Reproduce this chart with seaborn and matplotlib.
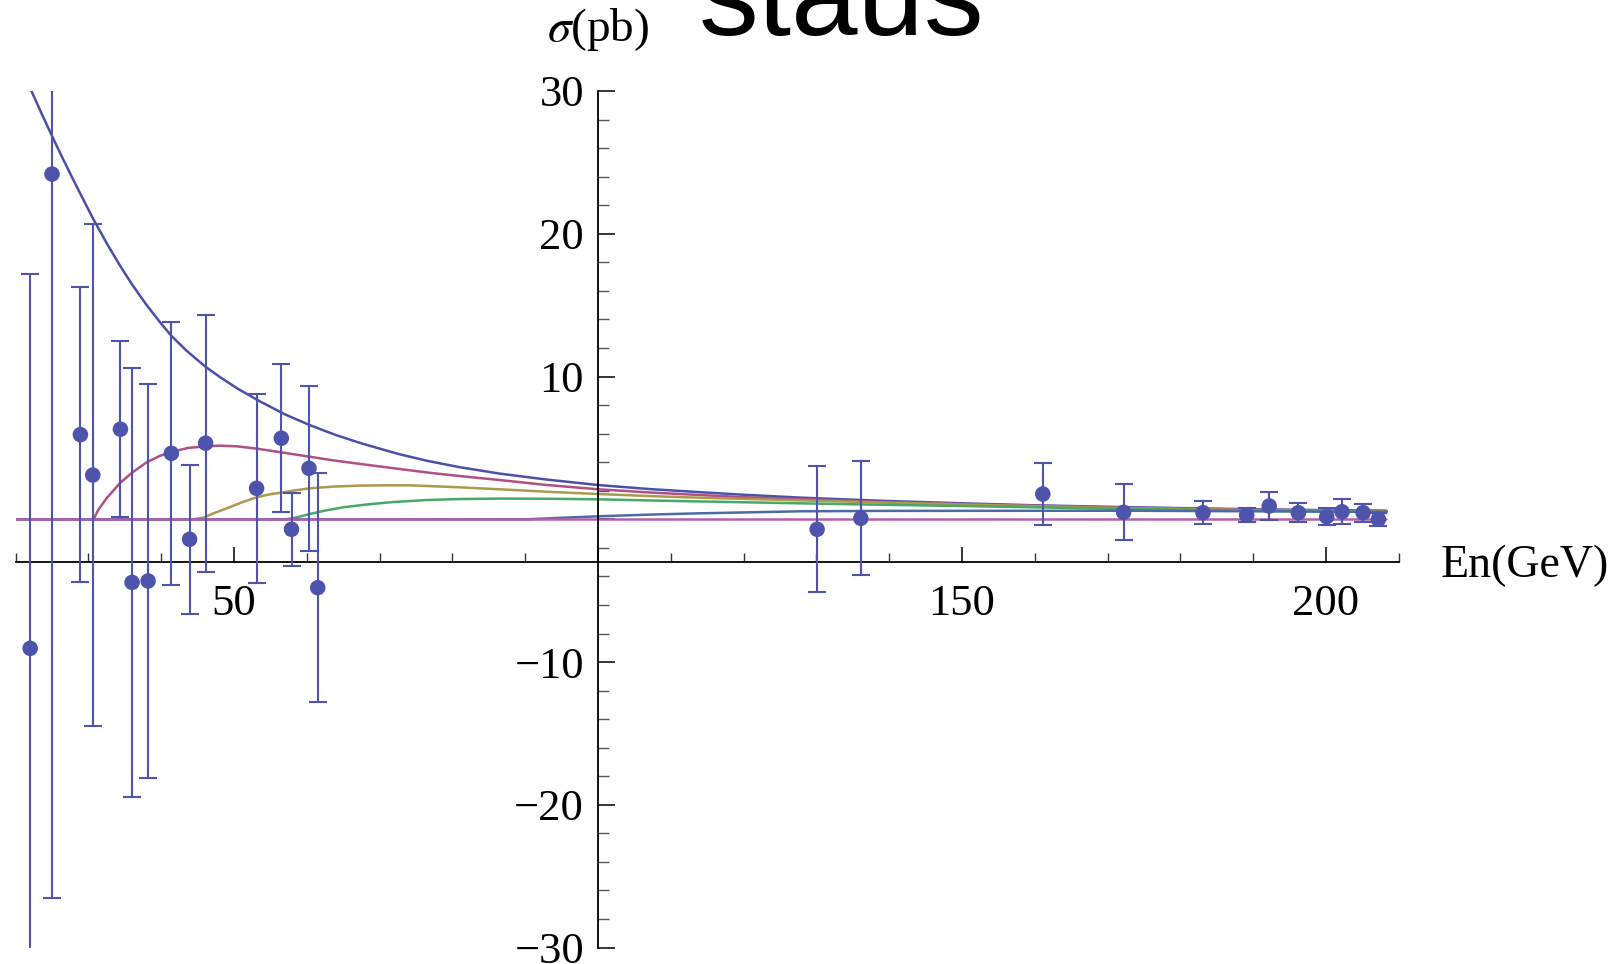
import matplotlib
matplotlib.use("Agg")
import matplotlib.pyplot as plt
import seaborn as sns
import numpy as np
from matplotlib.ticker import FixedLocator, MultipleLocator

# measured cross sections (pb) vs centre-of-mass energy (GeV)
energies = [22.0, 25.0, 28.9, 30.6, 34.4, 36.0, 38.2, 41.4, 43.9, 46.1, 53.1, 56.5,
            57.9, 60.3, 61.5, 130.1, 136.1, 161.1, 172.2, 183.1, 189.1, 192.2,
            196.2, 200.1, 202.2, 205.1, 207.2]
sigma = [-9.04, 24.18, 5.93, 3.10, 6.31, -4.42, -4.32, 4.62, -1.40, 5.33, 2.17, 5.68,
         -0.70, 3.57, -4.79, -0.70, 0.07, 1.77, 0.49, 0.46, 0.30, 0.93,
         0.46, 0.18, 0.53, 0.46, 0.00]
sigma_err = [26.2, 50.7, 10.35, 17.6, 6.15, 15.0, 13.8, 9.2, 5.2, 9.0, 6.6, 5.2,
             2.56, 5.8, 8.0, 4.4, 4.0, 2.2, 1.95, 0.82, 0.47, 0.95,
             0.68, 0.61, 0.86, 0.62, 0.47]

# theory curves
blue_x = [21.5, 22.2, 23.5, 25.0, 26.5, 28.0, 29.5, 30.6, 32.5, 34.3, 36.0, 38.0, 40.0,
          41.4, 43.5, 46.0, 48.1, 50.5, 53.6, 57.0, 60.4, 64.0, 67.3, 70.0, 72.8,
          76.5, 81.0, 86.5, 93.0, 100.0, 107.0, 114.0, 120.0, 127.7, 138.7, 150.0,
          160.0, 172.6, 185.0, 195.0, 208.3]
blue_y = [30.8, 29.97, 28.5, 26.85, 25.25, 23.7, 22.2, 21.1, 19.35, 17.8, 16.45, 15.0, 13.7,
          12.85, 11.8, 10.72, 9.95, 9.15, 8.25, 7.35, 6.6, 5.9, 5.35, 4.95, 4.55,
          4.1, 3.65, 3.2, 2.78, 2.40, 2.12, 1.90, 1.72, 1.52, 1.30, 1.12,
          0.98, 0.85, 0.74, 0.67, 0.60]

red_x = [20.0, 30.7, 31.4, 32.5, 34.3, 36.0, 38.0, 39.8, 41.4, 43.7, 46.1, 48.1, 50.4,
         53.1, 56.5, 60.3, 63.6, 67.3, 72.8, 77.0, 81.0, 86.5, 93.0, 100.1, 107.0,
         114.0, 120.0, 127.7, 138.7, 150.0, 160.0, 172.6, 190.0, 208.3]
red_y = [0.0, 0.0, 0.70, 1.47, 2.52, 3.27, 3.99, 4.44, 4.72, 5.00, 5.11, 5.16, 5.11,
         4.95, 4.69, 4.39, 4.13, 3.88, 3.52, 3.25, 3.03, 2.75, 2.40, 2.10, 1.88,
         1.70, 1.55, 1.42, 1.22, 1.07, 0.95, 0.81, 0.68, 0.58]

olive_x = [20.0, 44.4, 45.8, 47.2, 49.0, 51.1, 53.1, 54.7, 56.5, 58.4, 60.4, 63.6, 67.3,
           70.7, 74.2, 81.0, 86.5, 93.0, 100.0, 107.0, 114.0, 120.0, 127.7, 138.7,
           150.0, 160.0, 172.6, 190.0, 208.3]
olive_y = [0.0, 0.0, 0.12, 0.42, 0.77, 1.19, 1.54, 1.73, 1.87, 2.03, 2.17, 2.29, 2.36,
           2.38, 2.38, 2.24, 2.10, 1.93, 1.77, 1.63, 1.51, 1.43, 1.33, 1.18,
           1.04, 0.92, 0.78, 0.64, 0.55]

green_x = [20.0, 57.2, 58.8, 60.4, 62.7, 65.0, 68.45, 71.9, 76.5, 81.0, 86.5, 93.0,
           100.0, 107.0, 114.0, 127.7, 138.7, 150.0, 160.0, 172.6, 190.0, 208.3]
green_y = [0.0, 0.0, 0.16, 0.37, 0.63, 0.84, 1.05, 1.21, 1.35, 1.42, 1.45, 1.44,
           1.40, 1.32, 1.25, 1.12, 1.02, 0.93, 0.84, 0.72, 0.60, 0.50]

steel_x = [20.0, 90.2, 93.4, 96.6, 100.1, 107.1, 114.0, 120.9, 127.7, 140.0, 172.6, 208.3]
steel_y = [0.0, 0.0, 0.07, 0.14, 0.21, 0.33, 0.42, 0.49, 0.56, 0.59, 0.60, 0.52]

magenta_x = [20.0, 208.3]
magenta_y = [0.0, 0.0]

x_major = [50, 100, 150, 200]
x_labels = ["50", "", "150", "200"]
y_major = [-30, -20, -10, 0, 10, 20, 30]
y_labels = ["\u221230", "\u221220", "\u221210", "", "10", "20", "30"]

sns.set_theme(style="white")
plt.rcParams["font.family"] = ["Liberation Serif", "DejaVu Serif"]
plt.rcParams["mathtext.fontset"] = "stix"
plt.rcParams["text.color"] = "black"
plt.rcParams["xtick.labelcolor"] = "black"
plt.rcParams["ytick.labelcolor"] = "black"

W, H = 1622, 964
fig = plt.figure(figsize=(W / 100, H / 100), dpi=100)
ax = fig.add_axes([15.6 / W, (H - 947.6) / H, (1398.8 - 15.6) / W, (947.6 - 91.0) / H])

point_col = "#4e53ac"
curves = [
    (blue_x, blue_y, "#4b4fa8"),
    (red_x, red_y, "#b04f84"),
    (olive_x, olive_y, "#a99a4c"),
    (green_x, green_y, "#48a866"),
    (steel_x, steel_y, "#4a6aa8"),
    (magenta_x, magenta_y, "#b45fae"),
]
for i, (cx, cy, col) in enumerate(curves):
    sns.lineplot(x=cx, y=cy, color=col, lw=1.8, ax=ax, zorder=2 + i * 0.1,
                 estimator=None, sort=False)

ax.errorbar(energies, sigma, yerr=sigma_err, fmt="none", ecolor=point_col,
            elinewidth=1.5, capsize=6.5, capthick=1.5, zorder=3)
sns.scatterplot(x=energies, y=sigma, color=point_col, s=125, edgecolor="none",
                ax=ax, zorder=4)

ax.set_xlim(20, 210)
ax.set_ylim(-30, 30)

for s in ["top", "right"]:
    ax.spines[s].set_visible(False)
ax.spines["left"].set_position(("data", 100))
ax.spines["bottom"].set_position(("data", -3))
for s in ["left", "bottom"]:
    ax.spines[s].set_color("black")
    ax.spines[s].set_linewidth(1.3)

ax.xaxis.set_major_locator(FixedLocator(x_major))
ax.set_xticklabels(x_labels)
ax.xaxis.set_minor_locator(MultipleLocator(10))
ax.yaxis.set_major_locator(FixedLocator(y_major))
ax.set_yticklabels(y_labels)
ax.yaxis.set_minor_locator(MultipleLocator(2))

ax.tick_params(axis="x", which="major", direction="in", length=11, width=1.1,
               color="black", pad=16, labelsize=32, bottom=True)
ax.tick_params(axis="x", which="minor", direction="in", length=6.5, width=1.0,
               color="#333333", bottom=True)
ax.tick_params(axis="y", which="major", direction="in", length=12, width=1.1,
               color="black", pad=10, labelsize=32, left=True)
ax.tick_params(axis="y", which="minor", direction="in", length=8, width=1.0,
               color="#555555", left=True)
ax.grid(False)

fig.text(598 / W, 1 - 41 / H, r"$\sigma$(pb)", ha="center", va="baseline",
         fontsize=34, color="black")
fig.text(1441 / W, 1 - 577 / H, "En(GeV)", ha="left", va="baseline",
         fontsize=33, color="black")
fig.text(842 / W, 1 - 35 / H, "staus", ha="center", va="baseline", fontsize=86,
         color="black", family=["Liberation Sans", "DejaVu Sans"])

fig.savefig("out.png", dpi=100)
